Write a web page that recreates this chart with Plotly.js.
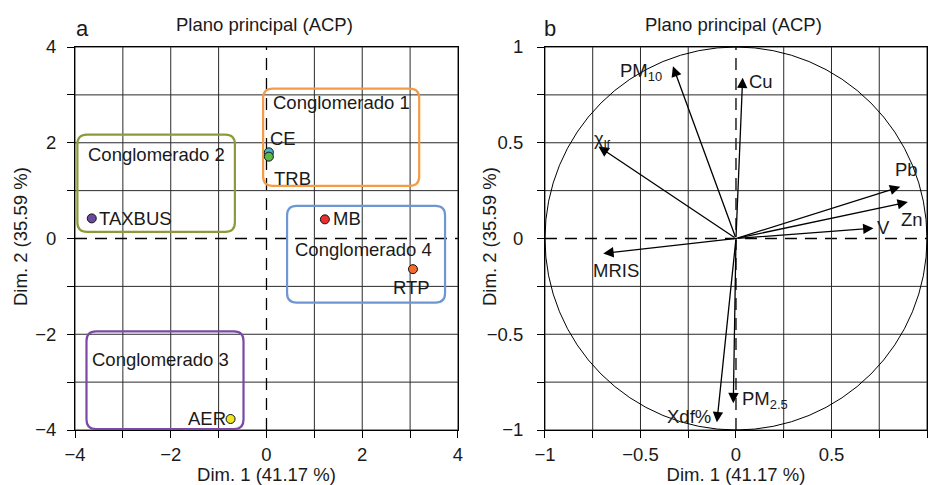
<!DOCTYPE html>
<html>
<head>
<meta charset="utf-8">
<script src="https://cdn.plot.ly/plotly-3.0.1.min.js"></script>
<style>html,body{margin:0;padding:0;background:#fff;}#chart{width:928px;height:485px;}</style>
</head>
<body>
<div id="chart"></div>
<script>
// ---------- DATA ----------
const sampleNames = ['TAXBUS', 'CE', 'TRB', 'MB', 'RTP', 'AER'];
const sampleDim1 = [-3.65, 0.05, 0.05, 1.22, 3.06, -0.75];
const sampleDim2 = [0.42, 1.80, 1.71, 0.40, -0.64, -3.77];
const sampleColors = ['#6a4a9e', '#48b6d3', '#5cb947', '#e8302e', '#f26b2c', '#eee626'];

const clusterNames = ['Conglomerado 1', 'Conglomerado 2', 'Conglomerado 3', 'Conglomerado 4'];
const clusterXmin = [-0.07, -3.95, -3.76, 0.43];
const clusterXmax = [3.19, -0.66, -0.48, 3.73];
const clusterYmin = [1.10, 0.14, -3.98, -1.34];
const clusterYmax = [3.13, 2.17, -1.94, 0.68];
const clusterLabelX = [0.09, -3.76, -3.69, 0.55];
const clusterLabelY = [2.85, 1.75, -2.52, -0.24];
const clusterColors = ['#f59a45', '#8e9a3a', '#7a49a5', '#6d96d3'];

const varNames = ['PM<sub>10</sub>', 'Cu', 'χ<sub>lf</sub>', 'Pb', 'Zn', 'V', 'MRIS', 'PM<sub>2.5</sub>', 'Xdf%'];
const varDim1 = [-0.33, 0.035, -0.72, 0.86, 0.90, 0.72, -0.695, -0.014, -0.10];
const varDim2 = [0.90, 0.84, 0.48, 0.27, 0.19, 0.054, -0.078, -0.86, -0.96];

const leftTicks = [-4, -3, -2, -1, 0, 1, 2, 3, 4];
const leftTickText = ['−4', '', '−2', '', '0', '', '2', '', '4'];
const rightTicks = [-1, -0.75, -0.5, -0.25, 0, 0.25, 0.5, 0.75, 1];
const rightTickText = ['−1', '', '−0.5', '', '0', '', '0.5', '', '1'];

const panelTitle = 'Plano principal (ACP)';
const xTitle = 'Dim. 1 (41.17 %)';
const yTitle = 'Dim. 2 (35.59 %)';

// ---------- STYLE / LAYOUT ----------
const FONT = 'Liberation Sans, Arial, Helvetica, sans-serif';
const FS = 18.5;
const TXT = '#1a1a1a';

const sampleLabelStyle = [
  {xanchor: 'left', xshift: 5, yshift: 0},
  {xanchor: 'left', xshift: -1, yshift: 14},
  {xanchor: 'left', xshift: 3, yshift: -22},
  {xanchor: 'left', xshift: 6, yshift: 1},
  {xanchor: 'center', xshift: -1, yshift: -18},
  {xanchor: 'right', xshift: -3, yshift: 0}
];
const varLabelStyle = [
  {xanchor: 'right', xshift: -9, yshift: -6},
  {xanchor: 'left', xshift: 4, yshift: -4},
  {xanchor: 'left', xshift: -6, yshift: 7},
  {xanchor: 'left', xshift: -7, yshift: 17},
  {xanchor: 'left', xshift: -9, yshift: -17},
  {xanchor: 'left', xshift: 1, yshift: 1},
  {xanchor: 'left', xshift: -12, yshift: -17},
  {xanchor: 'left', xshift: 7, yshift: 3},
  {xanchor: 'right', xshift: -4, yshift: 6}
];

function axisBase(ticks, text, range, domain, standoff) {
  return {
    range: range, domain: domain,
    tickmode: 'array', tickvals: ticks, ticktext: text,
    ticks: 'outside', ticklen: 7, tickwidth: 1, tickcolor: '#000',
    ticklabelstandoff: standoff,
    showgrid: false, zeroline: false,
    showline: true, linecolor: '#000', linewidth: 1, mirror: true,
    tickfont: {family: FONT, size: FS, color: TXT},
    fixedrange: true
  };
}

const layout = {
  width: 928, height: 485,
  margin: {l: 75, r: 1, t: 47, b: 55},
  paper_bgcolor: '#fff', plot_bgcolor: '#fff',
  showlegend: false,
  font: {family: FONT, size: FS, color: TXT},
  xaxis: Object.assign(axisBase(leftTicks, leftTickText, [-4, 4], [0, 0.4495], 1),
    {title: {text: xTitle, font: {family: FONT, size: FS}, standoff: 4}}),
  yaxis: axisBase(leftTicks, leftTickText, [-4, 4], [0, 1], 7),
  xaxis2: Object.assign(axisBase(rightTicks, rightTickText, [-1, 1], [0.5516, 1], 1),
    {anchor: 'y2', title: {text: xTitle, font: {family: FONT, size: FS}, standoff: 4}}),
  yaxis2: Object.assign(axisBase(rightTicks, rightTickText, [-1, 1], [0, 1], 10), {anchor: 'x2'}),
  shapes: [],
  annotations: []
};

// gridlines (from tick arrays) + dashed zero lines
[['x', 'y', leftTicks], ['x2', 'y2', rightTicks]].forEach(function (p) {
  const xr = p[0], yr = p[1], tv = p[2];
  const lo = tv[0], hi = tv[tv.length - 1];
  tv.forEach(function (v) {
    const isZero = v === 0;
    const ln = isZero ? {color: '#000', width: 1.3, dash: '12px,8px'} : {color: '#2a2a2a', width: 1};
    layout.shapes.push({type: 'line', xref: xr, yref: yr, x0: v, x1: v, y0: lo, y1: hi, layer: 'below', line: ln});
    layout.shapes.push({type: 'line', xref: xr, yref: yr, x0: lo, x1: hi, y0: v, y1: v, layer: 'below', line: ln});
  });
});

// cluster rounded boxes
function roundRect(x0, y0, x1, y1, rx, ry) {
  return 'M' + (x0 + rx) + ',' + y0 + ' L' + (x1 - rx) + ',' + y0 +
    ' Q' + x1 + ',' + y0 + ' ' + x1 + ',' + (y0 + ry) +
    ' L' + x1 + ',' + (y1 - ry) +
    ' Q' + x1 + ',' + y1 + ' ' + (x1 - rx) + ',' + y1 +
    ' L' + (x0 + rx) + ',' + y1 +
    ' Q' + x0 + ',' + y1 + ' ' + x0 + ',' + (y1 - ry) +
    ' L' + x0 + ',' + (y0 + ry) +
    ' Q' + x0 + ',' + y0 + ' ' + (x0 + rx) + ',' + y0 + ' Z';
}
clusterNames.forEach(function (name, i) {
  layout.shapes.push({type: 'path', xref: 'x', yref: 'y', layer: 'below',
    path: roundRect(clusterXmin[i], clusterYmin[i], clusterXmax[i], clusterYmax[i], 0.2, 0.2),
    line: {color: clusterColors[i], width: 2.2}});
  layout.annotations.push({xref: 'x', yref: 'y', x: clusterLabelX[i], y: clusterLabelY[i],
    text: name, showarrow: false, xanchor: 'left', yanchor: 'middle',
    font: {family: FONT, size: FS, color: TXT}});
});

// correlation circle
layout.shapes.push({type: 'circle', xref: 'x2', yref: 'y2', x0: -1, y0: -1, x1: 1, y1: 1,
  layer: 'below', line: {color: '#000', width: 1}});

// sample labels
sampleNames.forEach(function (n, i) {
  const s = sampleLabelStyle[i];
  layout.annotations.push({xref: 'x', yref: 'y', x: sampleDim1[i], y: sampleDim2[i], text: n,
    showarrow: false, xanchor: s.xanchor, yanchor: 'middle', xshift: s.xshift, yshift: s.yshift,
    font: {family: FONT, size: FS, color: TXT}});
});

// variable arrows + labels
varNames.forEach(function (n, i) {
  layout.annotations.push({xref: 'x2', yref: 'y2', axref: 'x2', ayref: 'y2',
    x: varDim1[i], y: varDim2[i], ax: 0, ay: 0, text: '', showarrow: true,
    arrowhead: 2, arrowsize: 1.6, arrowwidth: 1.3, arrowcolor: '#000', standoff: 0});
  const s = varLabelStyle[i];
  layout.annotations.push({xref: 'x2', yref: 'y2', x: varDim1[i], y: varDim2[i], text: n,
    showarrow: false, xanchor: s.xanchor, yanchor: 'middle', xshift: s.xshift, yshift: s.yshift,
    font: {family: FONT, size: FS, color: TXT}});
});

// panel titles, letters, y-axis titles
[[264, 'a', 82, 20], [733, 'b', 550, 489]].forEach(function (p) {
  layout.annotations.push({xref: 'paper', yref: 'paper', x: (p[0] - 75) / 852, y: (430 - 25) / 383,
    text: panelTitle, showarrow: false, xanchor: 'center', yanchor: 'middle',
    font: {family: FONT, size: FS, color: TXT}});
  layout.annotations.push({xref: 'paper', yref: 'paper', x: (p[2] - 75) / 852, y: (430 - 29) / 383,
    text: p[1], showarrow: false, xanchor: 'center', yanchor: 'middle',
    font: {family: FONT, size: 22, color: TXT}});
  layout.annotations.push({xref: 'paper', yref: 'paper', x: (p[3] - 75) / 852, y: (430 - 237) / 383,
    text: yTitle, textangle: -90, showarrow: false, xanchor: 'center', yanchor: 'middle',
    font: {family: FONT, size: FS, color: TXT}});
});

const traces = [{
  type: 'scatter', mode: 'markers', xaxis: 'x', yaxis: 'y',
  x: sampleDim1, y: sampleDim2, text: sampleNames, hoverinfo: 'text',
  marker: {size: 9, color: sampleColors, line: {color: '#111', width: 1}}
}, {
  type: 'scatter', mode: 'markers', xaxis: 'x2', yaxis: 'y2',
  x: varDim1, y: varDim2, hoverinfo: 'skip', marker: {size: 1, opacity: 0}
}];

Plotly.newPlot('chart', traces, layout, {displayModeBar: false, staticPlot: true});
</script>
</body>
</html>
